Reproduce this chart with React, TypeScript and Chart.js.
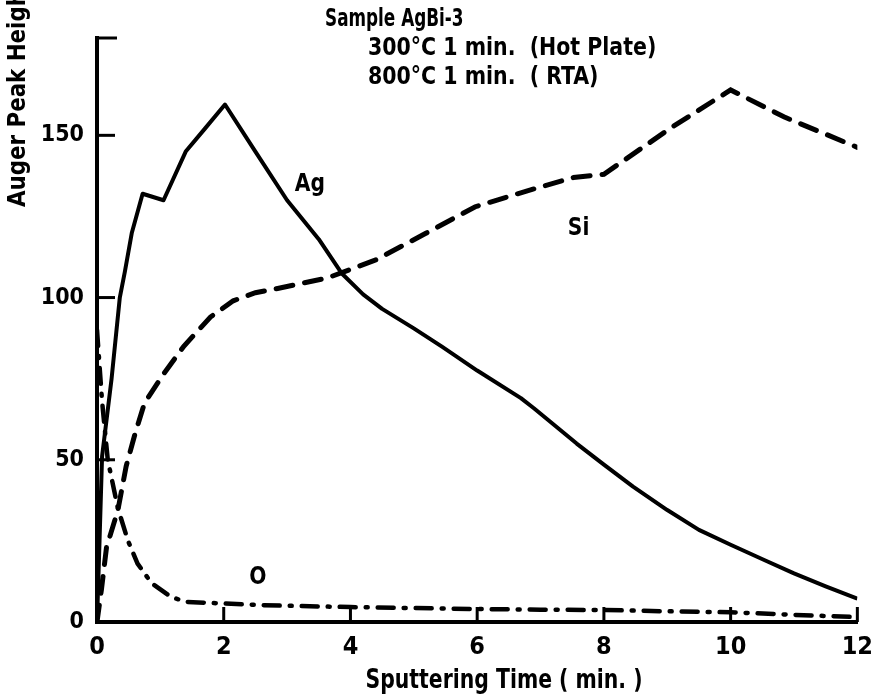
import { useEffect, useRef } from 'react';
import { Chart, registerables } from 'chart.js';

Chart.register(...registerables);

// ---- data ----
const agTime = [0, 0.04, 0.08, 0.23, 0.36, 0.44, 0.55, 0.72, 1.05, 1.4, 1.7, 2.02, 2.5, 3.0, 3.5, 3.86, 4.2, 4.5, 5.0, 5.45, 6.0, 6.69, 6.9, 7.57, 8.0, 8.46, 9.0, 9.5, 10.0, 10.53, 11.0, 11.5, 12.0];
const agHeight = [0, 25, 51, 75, 100, 108, 120, 132, 130, 145, 152, 159.5, 145, 130, 118, 107.5, 101, 96.5, 90.5, 84.8, 77.5, 69, 65.8, 55, 48.5, 41.7, 34.5, 28.4, 23.8, 19.1, 15, 11, 7.2];

const siTime = [0, 0.07, 0.15, 0.33, 0.46, 0.6, 0.75, 1.06, 1.37, 1.79, 2.15, 2.5, 2.85, 3.63, 4.4, 5.19, 5.97, 6.74, 7.52, 8.0, 9.08, 10.0, 10.84, 12.0];
const siHeight = [0, 10, 23, 34.5, 48, 58, 67.5, 76.7, 85, 94, 99, 101.5, 102.8, 106, 111.6, 119.8, 128, 132.6, 137, 138, 152.6, 164, 155.7, 146.3];

const oTime = [0, 0.08, 0.17, 0.33, 0.49, 0.64, 0.86, 1.17, 1.41, 1.89, 2.57, 3, 4, 5, 6, 7, 8, 9, 10, 11, 12];
const oHeight = [90, 68, 50, 35, 25, 18, 12, 7.7, 6.2, 5.8, 5.2, 5, 4.6, 4.3, 4, 3.8, 3.7, 3.3, 3, 2.2, 1.5];

const xTickValues = [0, 2, 4, 6, 8, 10, 12];
const yTickValues = [0, 50, 100, 150];
const yAxisMax = 180;

const seriesLabels = ['Ag', 'Si', 'O'];
const seriesLabelTime = [3.36, 7.6, 2.54];
const seriesLabelHeight = [134.7, 121.4, 13.6];

const titleLines = ['Sample AgBi-3', '300°C 1 min.  (Hot Plate)', '800°C 1 min.  ( RTA)'];
const xAxisTitle = 'Sputtering Time ( min. )';
const yAxisTitle = 'Auger Peak Height';

const FONT = "'Liberation Sans Narrow', 'DejaVu Sans Condensed', 'Roboto', sans-serif";

const toPoints = (xs: number[], ys: number[]) => xs.map((x, i) => ({ x, y: ys[i] }));

// draw text squeezed horizontally (the reference lettering is very narrow)
const narrowText = (ctx: any, text: string, x: number, y: number, sx: number) => {
  ctx.save();
  ctx.translate(x, y);
  ctx.scale(sx, 1);
  ctx.fillText(text, 0, 0);
  ctx.restore();
};

const overlayPlugin = {
  id: 'overlay',
  afterDatasetsDraw(chart: any) {
    const { ctx, chartArea } = chart;
    const xs = chart.scales.x;
    const ys = chart.scales.y;
    ctx.save();
    ctx.strokeStyle = '#000';
    ctx.fillStyle = '#000';
    ctx.lineWidth = 3;
    ctx.lineCap = 'butt';
    // inward y ticks
    for (const v of yTickValues) {
      if (v === 0) continue;
      const py = ys.getPixelForValue(v);
      ctx.beginPath();
      ctx.moveTo(chartArea.left, py);
      ctx.lineTo(chartArea.left + 18, py);
      ctx.stroke();
    }
    // top cap of y axis
    const topPy = ys.getPixelForValue(yAxisMax);
    ctx.beginPath();
    ctx.moveTo(chartArea.left - 2, topPy);
    ctx.lineTo(chartArea.left + 20, topPy);
    ctx.stroke();
    // inward x ticks
    for (const v of xTickValues) {
      if (v === 0) continue;
      const px = xs.getPixelForValue(v);
      ctx.beginPath();
      ctx.moveTo(px, chartArea.bottom);
      ctx.lineTo(px, chartArea.bottom - 15);
      ctx.stroke();
    }
    // series labels
    ctx.font = `bold 25px ${FONT}`;
    ctx.textAlign = 'center';
    ctx.textBaseline = 'middle';
    seriesLabels.forEach((t, i) => {
      narrowText(ctx, t, xs.getPixelForValue(seriesLabelTime[i]), ys.getPixelForValue(seriesLabelHeight[i]), 0.9);
    });
    // title block
    ctx.textAlign = 'left';
    ctx.font = `bold 24px ${FONT}`;
    narrowText(ctx, titleLines[0], 325, 20, 0.78);
    narrowText(ctx, titleLines[1], 368, 49, 0.95);
    narrowText(ctx, titleLines[2], 368, 78, 0.95);
    // x axis title
    ctx.font = `bold 27px ${FONT}`;
    ctx.textAlign = 'center';
    narrowText(ctx, xAxisTitle, 504, 681, 0.84);
    // y axis title (rotated, running upward and cut at the top)
    ctx.translate(18, 207);
    ctx.rotate(-Math.PI / 2);
    ctx.textAlign = 'left';
    ctx.font = `bold 25px ${FONT}`;
    narrowText(ctx, yAxisTitle, 0, 0, 0.95);
    ctx.restore();
  },
};

export default function App() {
  const ref = useRef<HTMLCanvasElement | null>(null);
  useEffect(() => {
    if (!ref.current) return;
    const chart = new Chart(ref.current, {
      type: 'line',
      data: {
        datasets: [
          {
            label: 'Ag',
            data: toPoints(agTime, agHeight),
            borderColor: '#000',
            borderWidth: 4,
            pointRadius: 0,
            tension: 0,
            borderJoinStyle: 'round',
          },
          {
            label: 'Si',
            data: toPoints(siTime, siHeight),
            borderColor: '#000',
            borderWidth: 5,
            borderDash: [17, 12],
            borderCapStyle: 'round',
            pointRadius: 0,
            tension: 0,
          },
          {
            label: 'O',
            data: toPoints(oTime, oHeight),
            borderColor: '#000',
            borderWidth: 4.5,
            borderDash: [16, 10, 2, 10],
            borderCapStyle: 'round',
            pointRadius: 0,
            tension: 0,
          },
        ],
      },
      options: {
        responsive: false,
        animation: false,
        devicePixelRatio: 1,
        layout: { padding: { top: 38, right: 15, left: 0, bottom: 0 } },
        plugins: { legend: { display: false }, tooltip: { enabled: false }, title: { display: false } },
        scales: {
          x: {
            type: 'linear',
            min: 0,
            max: 12,
            grid: { display: false, drawTicks: false },
            border: { display: true, color: '#000', width: 4 },
            afterFit: (s: any) => { s.height = 78; },
            afterBuildTicks: (s: any) => { s.ticks = xTickValues.map((v) => ({ value: v })); },
            ticks: { color: '#000', padding: 10, font: { family: FONT, size: 25, weight: 'bold' }, maxRotation: 0 },
          },
          y: {
            type: 'linear',
            min: 0,
            max: yAxisMax,
            grid: { display: false, drawTicks: false },
            border: { display: true, color: '#000', width: 4 },
            afterFit: (s: any) => { s.width = 97; },
            afterBuildTicks: (s: any) => { s.ticks = yTickValues.map((v) => ({ value: v })); },
            ticks: { color: '#000', padding: 13, font: { family: FONT, size: 23, weight: 'bold' } },
          },
        },
      },
      plugins: [overlayPlugin],
    });
    return () => chart.destroy();
  }, []);
  return (
    <div style={{ position: 'fixed', left: 0, top: 0, width: 883, height: 700, background: '#fff' }}>
      <canvas ref={ref} width={883} height={700} style={{ display: 'block', width: 883, height: 700 }} />
    </div>
  );
}
